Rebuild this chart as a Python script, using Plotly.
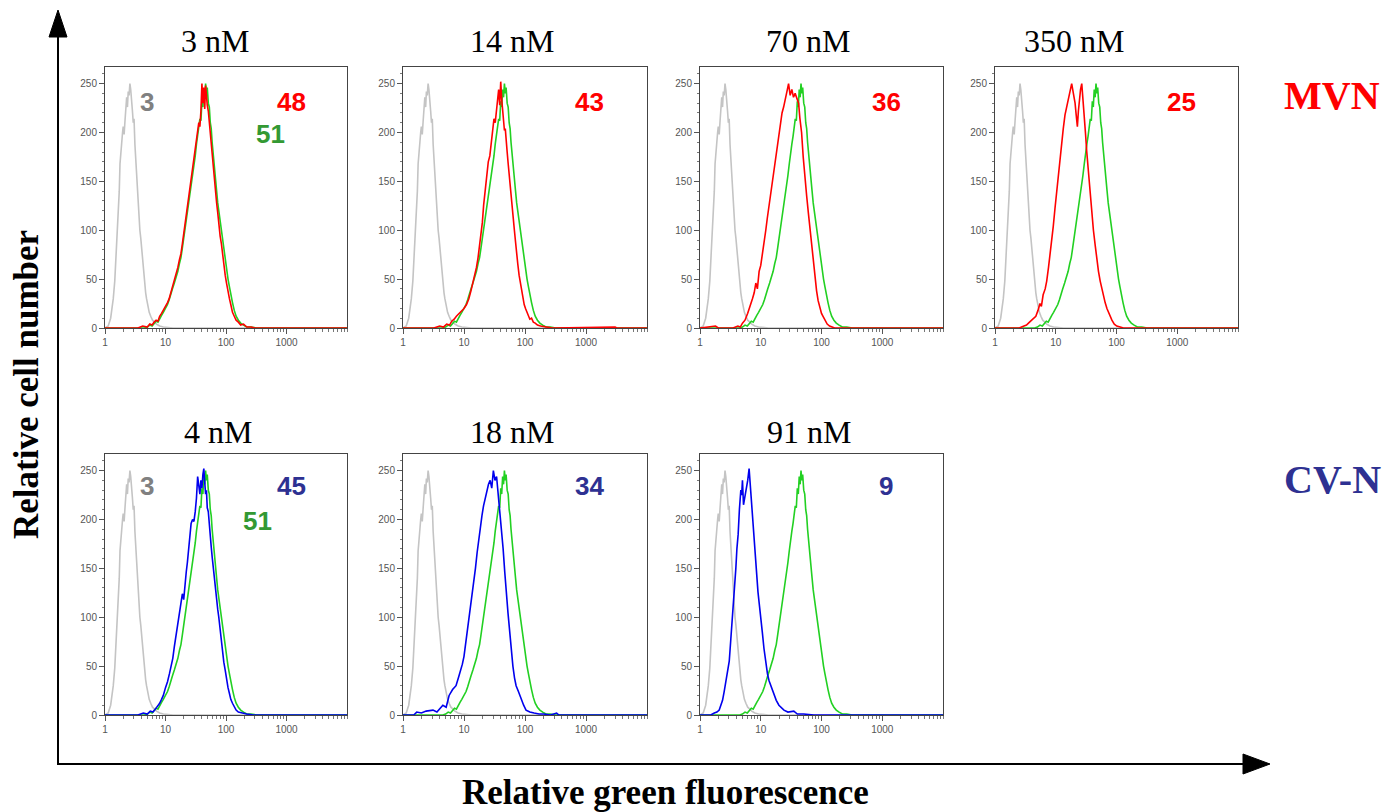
import plotly.graph_objects as go

W, H = 1382, 812

# ---------------- data ----------------
control_gray = [(1.0,0),(1.13,2),(1.24,10),(1.37,30),(1.45,48),(1.52,72),(1.6,95),(1.66,122),(1.72,140),
    (1.77,168),(1.83,182),(1.88,196),(1.95,200),(2.0,206),(2.07,198),(2.14,212),(2.2,228),(2.28,236),
    (2.35,226),(2.42,242),(2.5,238),(2.58,250),(2.66,244),(2.75,236),(2.84,222),(2.93,210),(3.02,214),
    (3.12,188),(3.22,172),(3.32,166),(3.43,145),(3.54,138),(3.65,112),(3.77,100),(3.9,92),(4.0,84),
    (4.14,70),(4.28,64),(4.42,54),(4.56,46),(4.7,36),(4.86,30),(5.1,22),(5.38,16),(5.7,12),(6.1,8),
    (6.6,6),(7.1,4),(8,2),(9.2,1),(13.4,0),(10000,0)]

untreated_green = [(1,0),(4.5,0),(5,1),(5.5,3),(6,2),(6.5,5),(7,7),(7.5,6),(8,10),(8.6,13),(9.2,16),
    (10,20),(10.8,24),(11.5,29),(12.3,34),(13,40),(14,46),(15,52),(16,58),(17,66),(18,72),(19,82),
    (20,92),(21,98),(22,108),(23,114),(24,124),(25,132),(26.5,146),(28,156),(29.5,168),(31,176),
    (32.5,188),(34,196),(35.5,206),(37,214),(38.5,212),(40,232),(41.5,226),(43,244),(44.5,236),
    (46,250),(47.5,240),(49,246),(51,230),(53,226),(55,210),(57,204),(59,190),(61.5,176),(64,166),
    (67,150),(70,140),(73,128),(76,120),(80,110),(84,100),(88,90),(92,82),(97,70),(102,58),(108,50),
    (114,42),(120,34),(128,26),(137,18),(147,12),(160,8),(175,5),(195,3),(220,1),(260,1),(320,0),(10000,0)]

mvn_3nM = [(1,0),(3.5,0),(4.2,2),(5,1),(5.5,4),(6,3),(6.5,6),(7,8),(7.5,7),(8,12),(8.6,15),(9.2,18),
    (10,22),(10.8,26),(11.5,30),(12.3,36),(13,42),(14,48),(15,55),(16,62),(17,70),(18,76),(19,86),
    (20,96),(21,104),(22,112),(23,120),(24,130),(25,138),(26.5,152),(28,160),(29.5,172),(31,182),
    (32.5,192),(34,200),(35.5,210),(37,206),(38.5,222),(40,250),(41.5,230),(43,246),(44.5,224),
    (46,248),(47.5,232),(49,228),(51,222),(53,210),(55,200),(57,190),(59,176),(61.5,168),(64,150),
    (67,140),(70,128),(73,118),(76,106),(80,94),(84,86),(88,74),(92,64),(97,54),(102,46),(108,36),
    (114,30),(120,24),(128,16),(137,12),(147,8),(160,6),(175,3),(195,4),(220,1),(260,1),(300,0),(10000,0)]

mvn_14nM = [(1,0),(3.2,0),(4,2),(4.6,1),(5.2,4),(5.8,3),(6.3,7),(6.9,9),(7.5,12),(8.1,14),(8.7,16),
    (9.4,18),(10,20),(11,24),(12,30),(13,38),(14,46),(15,54),(16,62),(17,72),(18,84),(19,96),
    (20,108),(21,126),(22,140),(23,146),(24,160),(25,170),(26.5,176),(28,190),(29.5,204),
    (31,214),(32.5,210),(34,224),(35.5,232),(37,244),(38.5,228),(40,252),(41.5,234),(43,220),
    (44.5,208),(46,202),(47.5,204),(49,190),(51,180),(53,168),(55,156),(57,148),(59,136),(61.5,124),
    (64,114),(67,100),(70,88),(73,74),(76,66),(80,54),(84,46),(88,38),(92,30),(97,24),(102,20),
    (108,16),(114,12),(120,9),(128,10),(137,6),(147,5),(160,3),(180,2),(220,1),(280,0),(3000,1),
    (3200,0),(10000,0)]

mvn_70nM = [(1,0),(1.8,2),(2,0),(3.5,0),(4.2,2),(4.6,1),(5.0,5),(5.5,8),(6.1,15),(6.7,22),(7.3,30),
    (7.8,36),(8.3,46),(8.8,40),(9.4,58),(10,64),(10.6,74),(11.3,86),(12.1,100),(12.8,112),(13.6,124),
    (14.5,136),(15.5,146),(16.5,160),(17.5,174),(18.6,186),(19.8,198),(21,208),(22.4,220),(23.8,226),
    (25.4,236),(27,242),(28.7,250),(30.5,238),(32.5,244),(34.6,236),(36.8,240),(39,236),(42,230),
    (44,215),(47,200),(50,175),(53.6,150),(57,135),(60.7,118),(65,100),(69,82),(73,66),(78,50),
    (83,38),(88,28),(94,20),(100,15),(106,12),(113,8),(124,4),(136,2),(150,1),(165,0),(10000,0)]

mvn_350nM = [(1,0),(2.5,0),(3.0,2),(3.3,3),(3.7,6),(4.0,8),(4.3,10),(4.7,12),(5.1,18),(5.5,25),
    (5.8,22),(6.2,34),(6.7,40),(7.1,48),(7.6,62),(8.1,76),(8.6,92),(9.1,104),(9.7,122),(10.3,138),
    (11,158),(11.7,172),(12.5,190),(13.3,204),(14.2,218),(15.2,226),(16.2,236),(17.2,242),(18.3,250),
    (19.5,240),(20.8,230),(21.7,218),(22.7,206),(23.6,222),(24.5,236),(25.6,244),(26.8,250),(28,236),
    (29.3,222),(30.8,200),(32.4,180),(34.5,160),(36.7,140),(39,118),(41.7,100),(44.5,85),(47.4,70),
    (50.5,58),(53.9,48),(57.5,40),(61.2,32),(65,26),(69.6,20),(76,14),(84,8),(92,4),(101,2),(115,1),
    (130,0),(10000,0)]

cvn_4nM = [(1,0),(3.5,0),(4.3,2),(5,1),(5.6,4),(6.2,3),(6.8,6),(7.4,9),(8,12),(8.6,16),(9.2,20),
    (10,28),(10.8,34),(11.6,42),(12.4,50),(13.2,58),(14,70),(15,82),(16,92),(17,100),(18,112),(19,124),
    (20,118),(21,136),(22,146),(23,156),(24,166),(25,182),(26.5,196),(28,200),(29.5,198),(31,208),
    (32.5,222),(34,244),(35.5,236),(37,226),(38.5,240),(40,232),(41.5,246),(43,252),(44.5,238),
    (46,226),(47.5,230),(49,212),(51,208),(53,198),(55,184),(57,172),(59,162),(61.5,150),(64,140),
    (67,128),(70,118),(73,108),(76,100),(80,86),(84,76),(88,66),(92,54),(97,46),(102,36),(108,28),
    (114,22),(120,16),(128,12),(137,8),(147,5),(160,3),(180,2),(220,1),(280,0),(10000,0)]

cvn_18nM = [(1,0),(1.5,0),(1.68,3),(2,2),(2.4,4),(3.1,5),(3.6,3),(4.0,6),(4.5,10),(5.1,8),(5.7,20),
    (6.5,26),(7.4,30),(8.1,38),(8.8,45),(9.4,52),(10,60),(10.6,72),(11.3,86),(12,96),(12.8,110),
    (13.6,120),(14.5,136),(15.4,150),(16.4,166),(17.4,180),(18.5,190),(19.7,204),(20.9,214),
    (22.3,222),(23.7,228),(25.2,236),(26.8,240),(28.5,232),(30.3,250),(32.2,240),(34.2,244),
    (36.4,226),(38.7,208),(41.2,188),(43.8,170),(46.6,146),(49.5,120),(52.7,104),(56,86),(59.6,66),
    (63.3,50),(67.3,38),(71.5,30),(78,24),(86.7,16),(95,10),(104,5),(120,3),(141,2),(170,1),(204,1),
    (260,0),(330,2),(360,0),(10000,0)]

cvn_91nM = [(1,0),(1.5,0),(1.72,2),(1.9,3),(2.07,5),(2.2,9),(2.35,15),(2.5,24),(2.67,35),(2.85,46),
    (3.03,55),(3.22,78),(3.43,100),(3.65,126),(3.89,150),(4.05,170),(4.25,185),(4.45,210),(4.7,230),
    (4.85,225),(5.0,240),(5.2,215),(5.45,222),(5.67,226),(5.9,232),(6.1,240),(6.43,252),(6.7,236),
    (7.0,225),(7.4,198),(7.8,180),(8.2,160),(8.6,140),(9.0,126),(9.4,115),(10.1,100),(10.6,85),
    (11.3,68),(12.1,52),(12.9,42),(13.7,35),(15,28),(16.5,22),(18,15),(19.9,10),(22,7),(24.1,5),
    (28,3),(35,4),(40,1),(51,1),(75,0),(10000,0)]

panel_titles = ["3 nM", "14 nM", "70 nM", "350 nM", "4 nM", "18 nM", "91 nM"]
panel_curves = [mvn_3nM, mvn_14nM, mvn_70nM, mvn_350nM, cvn_4nM, cvn_18nM, cvn_91nM]
panel_values = ["48", "43", "36", "25", "45", "34", "9"]
control_value = "3"
untreated_value = "51"
row_labels = ["MVN", "CV-N"]
x_tick_vals = [1, 10, 100, 1000]
x_tick_text = ["1", "10", "100", "1000"]
y_tick_vals = [0, 50, 100, 150, 200, 250]

# ---------------- styling / layout ----------------
RED = "#FF0000"
BLUE = "#0000EE"
GREEN = "#22D022"
GRAY = "#C4C4C4"
NAVY = "#2E3192"
panel_colors = [RED]*4 + [BLUE]*3
value_colors = [RED]*4 + [NAVY]*3

# panel pixel boxes (left, right, top, bottom)
col_px = [(105, 347), (403, 647), (700, 943), (995, 1238)]
row_px = [(67, 328), (454, 715)]
positions = [(0, 0), (0, 1), (0, 2), (0, 3), (1, 0), (1, 1), (1, 2)]
title_x = [215, 512, 808, 1074, 218, 512, 809]

def px(x):
    return x / W

def py(y):
    return 1 - y / H

fig = go.Figure()
layout = dict(
    width=W, height=H, margin=dict(l=0, r=0, t=0, b=0, pad=0, autoexpand=False),
    autosize=False, paper_bgcolor="white", plot_bgcolor="white", showlegend=False,
)
annotations = []
shapes = []

for i, (r, c) in enumerate(positions):
    n = i + 1
    xa = "x" if n == 1 else f"x{n}"
    ya = "y" if n == 1 else f"y{n}"
    xk = "xaxis" if n == 1 else f"xaxis{n}"
    yk = "yaxis" if n == 1 else f"yaxis{n}"
    l, rr = col_px[c]
    t, b = row_px[r]
    layout[xk] = dict(
        domain=[px(l), px(rr)], anchor=ya, type="log", range=[0, 4], automargin=False,
        tickvals=x_tick_vals, ticktext=x_tick_text, ticks="outside", ticklen=5,
        tickcolor="#555", tickfont=dict(family="Liberation Sans", size=10, color="#555"),
        minor=dict(ticks="outside", ticklen=3, dtick="D1", tickcolor="#777"),
        showline=True, linecolor="#444", linewidth=1, mirror=True,
        showgrid=False, zeroline=False,
    )
    layout[yk] = dict(
        domain=[py(b), py(t)], anchor=xa, range=[0, 267], automargin=False,
        tickvals=y_tick_vals, ticks="outside", ticklen=5, tickcolor="#555",
        tickfont=dict(family="Liberation Sans", size=10, color="#555"),
        minor=dict(ticks="outside", ticklen=2, dtick=10, tickcolor="#777"),
        showline=True, linecolor="#444", linewidth=1, mirror=True,
        showgrid=False, zeroline=False,
    )
    for data, col in [(control_gray, GRAY), (untreated_green, GREEN), (panel_curves[i], panel_colors[i])]:
        xs = [p[0] for p in data]
        ys = [p[1] for p in data]
        fig.add_trace(go.Scatter(x=xs, y=ys, mode="lines", xaxis=xa, yaxis=ya,
                                 line=dict(color=col, width=1.6), hoverinfo="skip"))
    annotations.append(dict(x=px(title_x[i]), y=py(41 if r == 0 else 432), xref="paper", yref="paper",
                            text=panel_titles[i], showarrow=False, xanchor="center", yanchor="middle",
                            font=dict(family="Liberation Serif", size=32, color="black")))
    vy = 102 if r == 0 else 486
    annotations.append(dict(x=px(l + 186), y=py(vy), xref="paper", yref="paper",
                            text=f"<b>{panel_values[i]}</b>", showarrow=False,
                            xanchor="center", yanchor="middle",
                            font=dict(family="Liberation Sans", size=26, color=value_colors[i])))
    if c == 0:
        annotations.append(dict(x=px(l + 42), y=py(vy), xref="paper", yref="paper",
                                text=f"<b>{control_value}</b>", showarrow=False,
                                xanchor="center", yanchor="middle",
                                font=dict(family="Liberation Sans", size=26, color="#808080")))
        gx, gy = (270, 134) if r == 0 else (257, 521)
        annotations.append(dict(x=px(gx), y=py(gy), xref="paper", yref="paper",
                                text=f"<b>{untreated_value}</b>", showarrow=False,
                                xanchor="center", yanchor="middle",
                                font=dict(family="Liberation Sans", size=26, color="#339933")))

annotations.append(dict(x=px(1332), y=py(96), xref="paper", yref="paper", text=f"<b>{row_labels[0]}</b>",
                        showarrow=False, xanchor="center", yanchor="middle",
                        font=dict(family="Liberation Serif", size=40, color=RED)))
annotations.append(dict(x=px(1332), y=py(479), xref="paper", yref="paper", text=f"<b>{row_labels[1]}</b>",
                        showarrow=False, xanchor="center", yanchor="middle",
                        font=dict(family="Liberation Serif", size=40, color=NAVY)))
annotations.append(dict(x=px(26), y=py(385), xref="paper", yref="paper", text="<b>Relative cell number</b>",
                        showarrow=False, textangle=-90, xanchor="center", yanchor="middle",
                        font=dict(family="Liberation Serif", size=35, color="black")))
annotations.append(dict(x=px(665), y=py(792), xref="paper", yref="paper",
                        text="<b>Relative green fluorescence</b>",
                        showarrow=False, xanchor="center", yanchor="middle",
                        font=dict(family="Liberation Serif", size=35, color="black")))

shapes.append(dict(type="line", xref="paper", yref="paper", x0=px(58), y0=py(764), x1=px(58), y1=py(36),
                   line=dict(color="black", width=2)))
shapes.append(dict(type="line", xref="paper", yref="paper", x0=px(57), y0=py(764), x1=px(1244), y1=py(764),
                   line=dict(color="black", width=2)))
shapes.append(dict(type="path", xref="paper", yref="paper",
                   path=f"M {px(49)},{py(37)} L {px(67)},{py(37)} L {px(58)},{py(10)} Z",
                   fillcolor="black", line=dict(color="black", width=1)))
shapes.append(dict(type="path", xref="paper", yref="paper",
                   path=f"M {px(1243)},{py(754)} L {px(1243)},{py(774)} L {px(1270)},{py(764)} Z",
                   fillcolor="black", line=dict(color="black", width=1)))

layout["annotations"] = annotations
layout["shapes"] = shapes
fig.update_layout(**layout)

post = "document.body.style.margin='0px';document.body.style.overflow='hidden';"
fig.write_html("out.html", config={"displayModeBar": False}, post_script=post)
